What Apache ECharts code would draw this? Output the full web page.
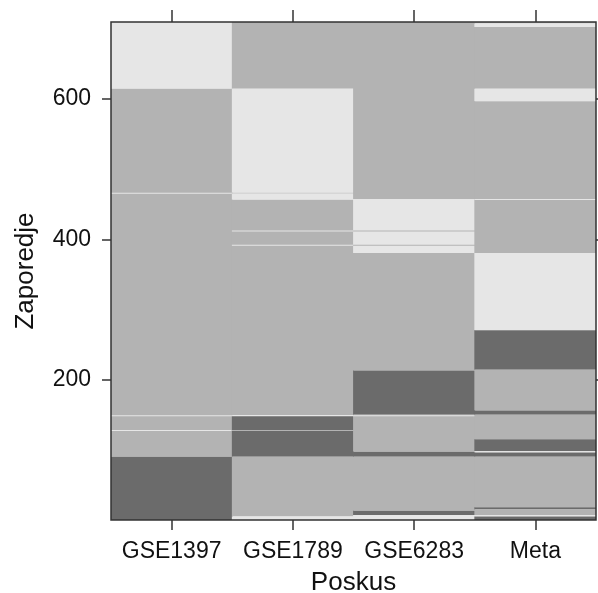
<!DOCTYPE html>
<html>
<head>
<meta charset="utf-8">
<script src="https://cdn.jsdelivr.net/npm/echarts@6/dist/echarts.min.js"></script>
<style>
  html, body {margin: 0; padding: 0; background: #fff;}
  #chart {width: 598px; height: 593px;}
</style>
</head>
<body>
<div id="chart"></div>
<script>
// stolpci (poskusi)
var categories = ['GSE1397', 'GSE1789', 'GSE6283', 'Meta'];
var yTicks = [200, 400, 600];
// 1 = temno, 2 = srednje, 3 = svetlo
var levelColors = {1: '#6b6b6b', 2: '#b3b3b3', 3: '#e6e6e6'};

// segmenti: [od, do, nivo]; tanke vrstice so na koncu, rišejo se čez
var gse1397 = [
  [615, 709, 3], [91, 614, 2], [1, 90, 1],
  [466, 466, 3], [149, 149, 3], [128, 128, 3]
];
var gse1789 = [
  [615, 709, 2], [467, 614, 3], [466, 466, 2], [457, 465, 3], [150, 456, 2],
  [91, 148, 1], [6, 90, 2], [1, 5, 3],
  [412, 412, 3], [392, 392, 3], [149, 149, 3], [128, 128, 2]
];
var gse6283 = [
  [458, 709, 2], [381, 457, 3], [214, 380, 2], [151, 213, 1], [98, 150, 2],
  [91, 97, 1], [14, 90, 2], [8, 13, 1], [1, 7, 3],
  [412, 412, 2], [392, 392, 2], [149, 149, 3]
];
var meta = [
  [708, 709, 2], [703, 707, 3], [615, 702, 2], [597, 614, 3], [381, 596, 2],
  [271, 380, 3], [215, 270, 1], [157, 214, 2], [151, 156, 1], [116, 150, 2],
  [99, 115, 1], [97, 98, 3], [91, 96, 1], [19, 90, 2], [16, 18, 1],
  [8, 15, 2], [6, 7, 3], [1, 5, 1],
  [457, 457, 3]
];

var columns = [gse1397, gse1789, gse6283, meta];
var seriesData = [];
columns.forEach(function (segs, ci) {
  segs.forEach(function (s) {
    seriesData.push([ci, s[0], s[1], s[2]]);
  });
});

var font = '"Liberation Sans", Arial, Helvetica, sans-serif';

function renderItem(params, api) {
  var col = api.value(0);
  var top = api.coord([col, api.value(2) + 0.5]);
  var bottom = api.coord([col, api.value(1) - 0.5]);
  var w = api.size([1, 0])[0] + 0.8;          // malo prekrivanja, da ni belih šivov
  var h = Math.max(bottom[1] - top[1], 1);   // tanke vrstice vsaj 1px
  return {
    type: 'rect',
    shape: {x: top[0] - w / 2, y: top[1], width: w, height: h},
    style: {fill: levelColors[api.value(3)]}
  };
}

var tickStyle = {color: '#333', width: 1.5};

var chart = echarts.init(document.getElementById('chart'));
chart.setOption({
  animation: false,
  backgroundColor: '#fff',
  grid: {
    left: 111, top: 22, right: 2, bottom: 73,
    outerBoundsMode: 'none',
    containLabel: false,
    show: true, borderColor: '#333', borderWidth: 1.5,
    backgroundColor: 'transparent', z: 10
  },
  xAxis: [{
    type: 'category',
    data: categories,
    position: 'bottom',
    name: 'Poskus',
    nameLocation: 'middle',
    nameGap: 50,
    nameTextStyle: {fontSize: 26, color: '#111', fontFamily: font},
    axisLine: {show: false},
    axisTick: {show: true, alignWithLabel: true, length: 10, lineStyle: tickStyle},
    axisLabel: {fontSize: 23, color: '#111', fontFamily: font, margin: 20, interval: 0, hideOverlap: false},
    splitLine: {show: false}
  }, {
    type: 'category',
    data: categories,
    position: 'top',
    axisLine: {show: false},
    axisTick: {show: true, alignWithLabel: true, length: 12, interval: 0, lineStyle: tickStyle},
    axisLabel: {show: false, interval: 0},
    splitLine: {show: false}
  }],
  yAxis: [{
    type: 'value',
    min: 0.5,
    max: 709.5,
    position: 'left',
    name: 'Zaporedje',
    nameLocation: 'middle',
    nameGap: 72,
    nameTextStyle: {fontSize: 26, color: '#111', fontFamily: font},
    axisLine: {show: false},
    axisTick: {show: true, length: 9, customValues: yTicks, lineStyle: tickStyle},
    axisLabel: {fontSize: 23, color: '#111', fontFamily: font, margin: 20, customValues: yTicks},
    splitLine: {show: false}
  }, {
    type: 'value',
    min: 0.5,
    max: 709.5,
    position: 'right',
    axisLine: {show: false},
    axisTick: {show: true, length: 9, customValues: yTicks, lineStyle: tickStyle},
    axisLabel: {show: false, customValues: yTicks},
    splitLine: {show: false}
  }],
  series: [{
    type: 'custom',
    renderItem: renderItem,
    clip: true,
    encode: {x: 0, y: [1, 2]},
    data: seriesData
  }]
});
</script>
</body>
</html>
